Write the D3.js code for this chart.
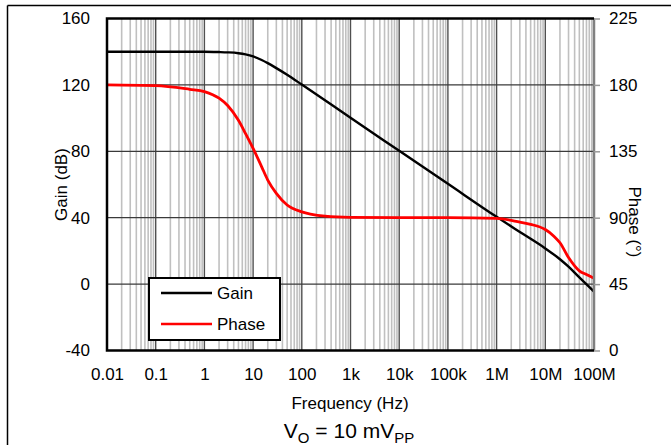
<!DOCTYPE html>
<html>
<head>
<meta charset="utf-8">
<script src="https://cdn.jsdelivr.net/npm/d3@7"></script>
<style>
  body { margin: 0; background: #fff; }
  text { font-family: Arial, "Liberation Sans", sans-serif; fill: #000; }
</style>
</head>
<body>
<div id="chart"></div>
<script>
// values
var freqTicks = [0.01, 0.1, 1, 10, 100, 1e3, 1e4, 1e5, 1e6, 1e7, 1e8];
var freqLabels = ["0.01", "0.1", "1", "10", "100", "1k", "10k", "100k", "1M", "10M", "100M"];
var gainTicks = [-40, 0, 40, 80, 120, 160];
var phaseTicks = [0, 45, 90, 135, 180, 225];

var gainFreq = [0.01, 0.1, 1, 2, 3, 5, 7, 10, 15, 20, 30, 50, 100, 1e3, 1e4, 1e5, 1e6, 3e6, 1e7, 2e7, 3e7, 5e7, 1e8];
var gainDb = [140, 140, 140, 139.8, 139.6, 139.1, 138.4, 137.2, 135, 133.1, 130.1, 126.1, 120.2, 100.2, 80.3, 60.4, 40.5, 31.4, 21.5, 15, 10.5, 4, -4.5];

var phaseFreq = [0.01, 0.1, 0.5, 1, 2, 3, 5, 7, 10, 15, 20, 30, 50, 100, 150, 300, 1e3, 1e4, 1e5, 1e6, 3e6, 5e6, 1e7, 1.5e7, 2e7, 3e7, 5e7, 7e7, 1e8];
var phaseDeg = [180, 179.5, 177, 175.5, 171, 166, 156, 147, 137, 124.5, 115.5, 106.5, 98.6, 94, 92.5, 91, 90.2, 90, 90, 89.5, 87, 85.5, 82, 77.5, 73, 63, 54, 51.5, 49];

var legendNames = ["Gain", "Phase"];
var legendColors = ["#000000", "#ff0000"];

draw_bode("#chart");

function draw_bode(divID) {
  var W = 671, H = 445;
  var pLeft = 107, pRight = 594, pTop = 18.5, pBottom = 350.5;

  var svg = d3.select(divID).append("svg")
    .attr("width", W)
    .attr("height", H);

  // outer frame (only top and left are visible)
  svg.append("line").attr("x1", 7.5).attr("y1", 5.5).attr("x2", W).attr("y2", 5.5)
    .style("stroke", "#000").style("stroke-width", 1.5);
  svg.append("line").attr("x1", 7.5).attr("y1", 5.5).attr("x2", 7.5).attr("y2", H)
    .style("stroke", "#000").style("stroke-width", 1.5);

  var x = d3.scaleLog().domain([0.01, 1e8]).range([pLeft, pRight]);
  var yG = d3.scaleLinear().domain([-40, 160]).range([pBottom, pTop]);
  var yP = d3.scaleLinear().domain([0, 225]).range([pBottom, pTop]);

  // minor vertical grid
  var minor = [];
  freqTicks.slice(0, -1).forEach(function(d) {
    for (var k = 2; k <= 9; k++) minor.push(d * k);
  });
  svg.append("g").selectAll("line").data(minor).enter().append("line")
    .attr("x1", function(d) { return x(d); })
    .attr("x2", function(d) { return x(d); })
    .attr("y1", pTop).attr("y2", pBottom)
    .style("stroke", "#c0c0c0").style("stroke-width", 1.6);

  // decade lines
  svg.append("g").selectAll("line").data(freqTicks).enter().append("line")
    .attr("x1", function(d) { return x(d); })
    .attr("x2", function(d) { return x(d); })
    .attr("y1", pTop).attr("y2", pBottom)
    .style("stroke", "#505050").style("stroke-width", 1.4);

  // horizontal grid
  svg.append("g").selectAll("line").data(gainTicks).enter().append("line")
    .attr("x1", pLeft).attr("x2", pRight)
    .attr("y1", function(d) { return yG(d); })
    .attr("y2", function(d) { return yG(d); })
    .style("stroke", "#3a3a3a").style("stroke-width", 1.2);

  // curves
  var gainLine = d3.line()
    .x(function(d) { return x(d[0]); })
    .y(function(d) { return yG(d[1]); })
    .curve(d3.curveMonotoneX);
  var phaseLine = d3.line()
    .x(function(d) { return x(d[0]); })
    .y(function(d) { return yP(d[1]); })
    .curve(d3.curveMonotoneX);

  svg.append("path")
    .datum(d3.zip(gainFreq, gainDb))
    .attr("d", gainLine)
    .style("fill", "none").style("stroke", legendColors[0]).style("stroke-width", 2.4);
  svg.append("path")
    .datum(d3.zip(phaseFreq, phaseDeg))
    .attr("d", phaseLine)
    .style("fill", "none").style("stroke", legendColors[1]).style("stroke-width", 2.8);

  // plot frame
  svg.append("line").attr("x1", pRight).attr("x2", pRight).attr("y1", pTop).attr("y2", pBottom)
    .style("stroke", "#808080").style("stroke-width", 2.5);
  svg.append("path")
    .attr("d", "M" + pRight + "," + pTop + "H" + pLeft + "V" + pBottom + "H" + pRight)
    .style("fill", "none").style("stroke", "#000").style("stroke-width", 2.5);

  // axes
  var xAxis = svg.append("g")
    .attr("transform", "translate(0," + pBottom + ")")
    .call(d3.axisBottom(x).tickValues(freqTicks)
      .tickFormat(function(d, i) { return freqLabels[i]; })
      .tickSize(0).tickPadding(17));

  var gAxis = svg.append("g")
    .attr("transform", "translate(" + pLeft + ",0)")
    .call(d3.axisLeft(yG).tickValues(gainTicks).tickFormat(String)
      .tickSize(0).tickPadding(17));

  var pAxis = svg.append("g")
    .attr("transform", "translate(" + pRight + ",0)")
    .call(d3.axisRight(yP).tickValues(phaseTicks).tickFormat(String)
      .tickSize(6).tickPadding(9));

  [xAxis, gAxis, pAxis].forEach(function(a) {
    a.select(".domain").remove();
    a.selectAll("text").style("font-size", "17px")
      .style("font-family", "Arial, 'Liberation Sans', sans-serif");
  });
  pAxis.selectAll(".tick line").style("stroke", "#999").style("stroke-width", 1.5);

  // axis titles
  svg.append("text")
    .attr("transform", "translate(67," + (pTop + pBottom) / 2 + ") rotate(-90)")
    .style("text-anchor", "middle").style("font-size", "17px")
    .text("Gain (dB)");

  svg.append("text")
    .attr("transform", "translate(629,222) rotate(90)")
    .style("text-anchor", "middle").style("font-size", "17px")
    .text("Phase (°)");

  svg.append("text")
    .attr("x", 350).attr("y", 409)
    .style("text-anchor", "middle").style("font-size", "17px")
    .text("Frequency (Hz)");

  var vo = svg.append("text")
    .attr("x", 349).attr("y", 438)
    .style("text-anchor", "middle").style("font-size", "21px");
  vo.append("tspan").text("V");
  vo.append("tspan").attr("dy", 5).style("font-size", "15px").text("O");
  vo.append("tspan").attr("dy", -5).text(" = 10 mV");
  vo.append("tspan").attr("dy", 5).style("font-size", "15px").text("PP");

  // legend
  var legend = svg.append("g");
  legend.append("rect")
    .attr("x", 149).attr("y", 278).attr("width", 131).attr("height", 62)
    .style("fill", "#fff").style("stroke", "#000").style("stroke-width", 2);
  legendNames.forEach(function(name, i) {
    var ly = 293 + i * 31;
    legend.append("line")
      .attr("x1", 161).attr("x2", 212).attr("y1", ly).attr("y2", ly)
      .style("stroke", legendColors[i]).style("stroke-width", 2.4);
    legend.append("text")
      .attr("x", 217).attr("y", ly + 6)
      .style("font-size", "17px")
      .text(name);
  });
}
</script>
</body>
</html>
